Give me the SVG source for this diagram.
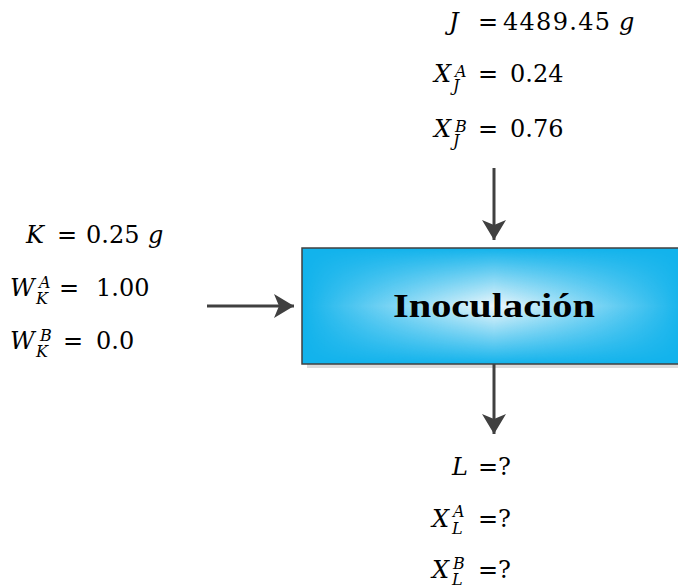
<svg xmlns="http://www.w3.org/2000/svg" width="678" height="588" viewBox="0 0 678 588">
<style>
.m{font-family:"DejaVu Serif","Liberation Serif",serif;font-size:24px;fill:#000}
.i{font-style:italic}
.s{font-family:"DejaVu Serif","Liberation Serif",serif;font-size:16px;font-style:italic;fill:#000}
.title{font-family:"Liberation Serif","DejaVu Serif",serif;font-size:34px;font-weight:bold;fill:#000}
.conn line{stroke:#404040;stroke-width:3;fill:none}
</style>
<defs>
<linearGradient id="hg" x1="0" y1="0" x2="1" y2="0">
<stop offset="0" stop-color="#ffffff" stop-opacity="0"/>
<stop offset="0.5" stop-color="#eef7fb" stop-opacity="1"/>
<stop offset="1" stop-color="#ffffff" stop-opacity="0"/>
</linearGradient>
<linearGradient id="vg" x1="0" y1="0" x2="0" y2="1">
<stop offset="0" stop-color="#000"/>
<stop offset="0.5" stop-color="#fff"/>
<stop offset="1" stop-color="#000"/>
</linearGradient>
<mask id="vm" maskContentUnits="userSpaceOnUse">
<rect x="302" y="248" width="384" height="116" fill="url(#vg)"/>
</mask>
<marker id="ah" viewBox="0 0 20 24" refX="20" refY="12" markerWidth="20" markerHeight="24" markerUnits="userSpaceOnUse" orient="auto">
<path d="M0,0 L20,12 L0,24 L5,12 Z" fill="#404040"/>
</marker>
</defs>

<g id="proceso">
<rect x="307" y="364" width="380" height="4" fill="#dcdcdc"/>
<rect x="302" y="248" width="384" height="116" fill="#12b3ec" stroke="#404040" stroke-width="1.5"/>
<rect x="303" y="249" width="382" height="114" fill="url(#hg)" mask="url(#vm)"/>
<text class="title" x="393" y="317" textLength="202" lengthAdjust="spacingAndGlyphs">Inoculación</text>
</g>

<g class="conn" id="conectores">
<line x1="494" y1="168" x2="494" y2="240" marker-end="url(#ah)"/>
<line x1="207" y1="306" x2="294" y2="306" marker-end="url(#ah)"/>
<line x1="494" y1="364" x2="494" y2="434" marker-end="url(#ah)"/>
</g>

<g id="entrada-J">
<text class="m i" x="449" y="30">J</text>
<text class="m" x="478" y="30">=</text>
<text class="m" x="503" y="30" textLength="107" lengthAdjust="spacing">4489.45</text>
<text class="m i" x="619" y="30">g</text>

<text class="m i" x="434" y="82">X</text>
<text class="s" x="455" y="77">A</text>
<text class="s" x="453" y="91">J</text>
<text class="m" x="478" y="82">=</text>
<text class="m" x="510" y="82">0.24</text>

<text class="m i" x="434" y="137">X</text>
<text class="s" x="455" y="132">B</text>
<text class="s" x="453" y="146">J</text>
<text class="m" x="478" y="137">=</text>
<text class="m" x="510" y="137">0.76</text>
</g>

<g id="entrada-K">
<text class="m i" x="26" y="243">K</text>
<text class="m" x="57" y="243">=</text>
<text class="m" x="86" y="243">0.25</text>
<text class="m i" x="148" y="243">g</text>

<text class="m i" x="10" y="296">W</text>
<text class="s" x="39" y="288">A</text>
<text class="s" x="36" y="304">K</text>
<text class="m" x="59" y="296">=</text>
<text class="m" x="96" y="296">1.00</text>

<text class="m i" x="10" y="349">W</text>
<text class="s" x="40" y="341">B</text>
<text class="s" x="36" y="357">K</text>
<text class="m" x="63" y="349">=</text>
<text class="m" x="96" y="349">0.0</text>
</g>

<g id="salida-L">
<text class="m i" x="452" y="475">L</text>
<text class="m" x="478" y="475">=?</text>

<text class="m i" x="432" y="527">X</text>
<text class="s" x="453" y="517">A</text>
<text class="s" x="452" y="534">L</text>
<text class="m" x="478" y="527">=?</text>

<text class="m i" x="432" y="578">X</text>
<text class="s" x="453" y="569">B</text>
<text class="s" x="452" y="585">L</text>
<text class="m" x="478" y="578">=?</text>
</g>
</svg>
